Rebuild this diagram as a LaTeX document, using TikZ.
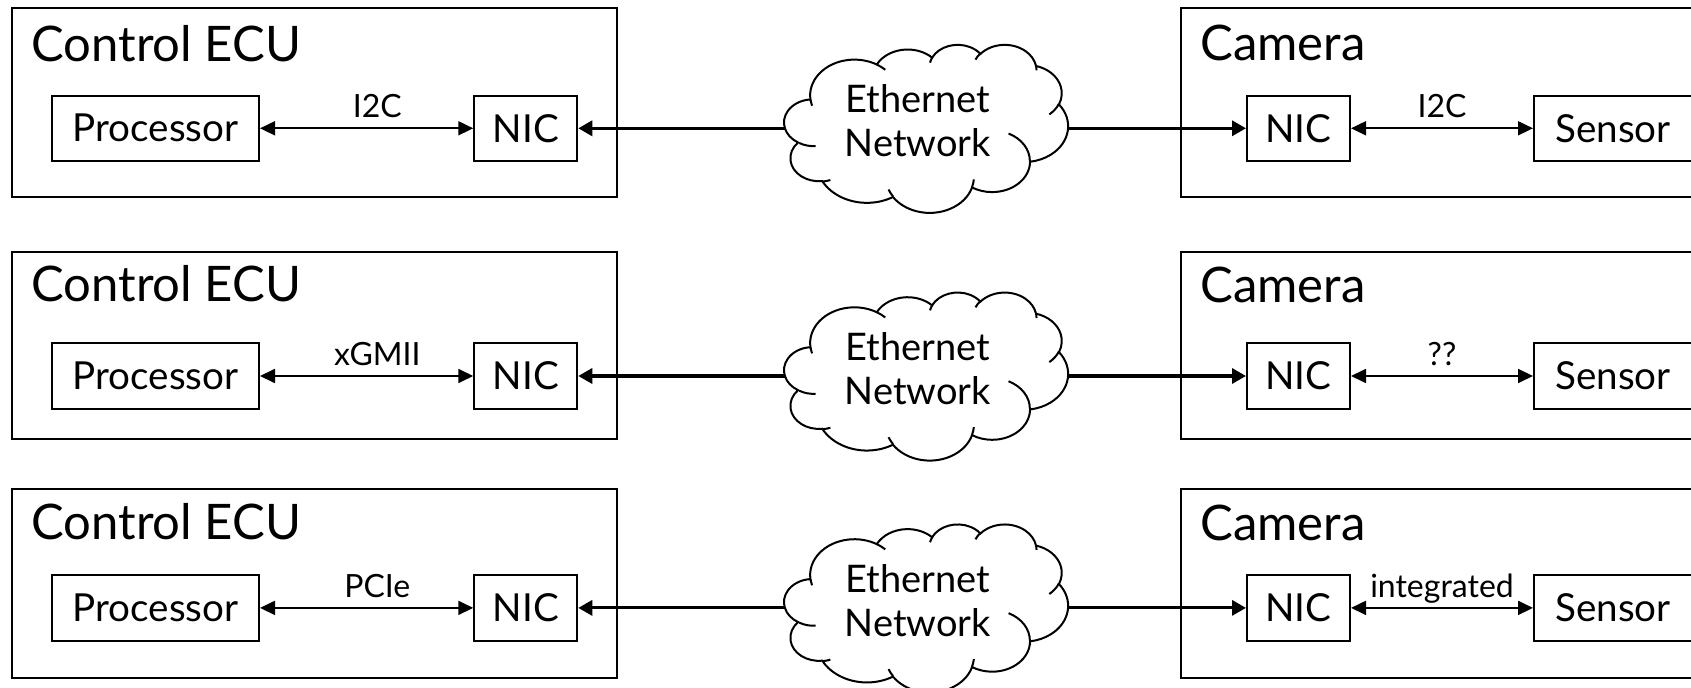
\documentclass[tikz,border=0pt]{standalone}
\usepackage{fontspec}
\setmainfont{Lato}
\usetikzlibrary{arrows.meta}
\tikzset{
  unitbox/.style={draw, line width=1.1pt},
  boxtitle/.style={anchor=base west, inner sep=0pt, font=\fontsize{24.5}{28}\selectfont},
  blk/.style={draw, line width=1pt, minimum height=32.75pt, inner sep=0pt,
    font=\fontsize{19.3}{23}\selectfont},
  proc/.style={blk, minimum width=103.5pt},
  nic/.style={blk, minimum width=51.5pt},
  sens/.style={blk, minimum width=79pt},
  link/.style={{Triangle[length=7.5pt,width=7pt]}-{Triangle[length=7.5pt,width=7pt]},
    line width=0.9pt},
  trunk/.style={-{Triangle[length=7pt,width=7.5pt]}, line width=1.6pt},
  lbl/.style={anchor=base, inner sep=0pt, yshift=5.2pt, font=\fontsize{16}{19}\selectfont},
  nettxt/.style={anchor=base, align=center, inner sep=0pt, font=\fontsize{19}{22}\selectfont},
  cloudline/.style={line width=1pt},
  netcloud/.pic={
    \begin{scope}[x=1.415pt, y=-0.84pt]
    \draw[cloudline, fill=white] (-40.97,-16.74)
      arc[start angle=172.25, end angle=300.36, x radius=15.632, y radius=21.273]
      arc[start angle=-152.02, end angle=-45.43, x radius=12.345, y radius=16.822]
      arc[start angle=-153.50, end angle=-37.33, x radius=10.104, y radius=13.762]
      arc[start angle=-139.71, end angle=-10.21, x radius=11.243, y radius=15.266]
      arc[start angle=-74.77, end angle=23.21, x radius=12.345, y radius=16.836]
      arc[start angle=-37.52, end angle=81.86, x radius=15.683, y radius=21.343]
      arc[start angle=0.46, end angle=121.98, x radius=13.391, y radius=18.211]
      arc[start angle=16.84, end angle=146.23, x radius=15.630, y radius=21.331]
      arc[start angle=58.99, end angle=152.04, x radius=17.870, y radius=24.405]
      arc[start angle=83.31, end angle=223.10, x radius=10.093, y radius=13.699]
      arc[start angle=120.36, end angle=264.11, x radius=10.058, y radius=13.762]
      -- cycle;
    \draw[cloudline]
      (-39.14,10.59) arc[start angle=85.55, end angle=120.36, x radius=10.058, y radius=13.762]
      (-33.96,30.78) arc[start angle=68.23, end angle=83.31, x radius=10.093, y radius=13.699]
      (-11.86,40.49) arc[start angle=146.23, end angle=158.48, x radius=15.630, y radius=21.331]
      (16.73,30.44) arc[start angle=4.74, end angle=16.84, x radius=15.630, y radius=21.331]
      (29.00,3.13) arc[start angle=-64.03, end angle=0.46, x radius=13.391, y radius=18.211]
      (46.75,-14.46) arc[start angle=23.21, end angle=49.64, x radius=12.345, y radius=16.836]
      (38.71,-37.44) arc[start angle=-10.21, end angle=0.82, x radius=11.243, y radius=15.266]
      (17.31,-40.85) arc[start angle=-156.29, end angle=-139.71, x radius=11.243, y radius=15.266]
      (1.25,-39.07) arc[start angle=-167.72, end angle=-153.50, x radius=10.104, y radius=13.762]
      (-17.59,-37.98) arc[start angle=-59.64, end angle=-45.71, x radius=15.632, y radius=21.273]
      (-40.45,-13.45) arc[start angle=163.20, end angle=172.25, x radius=15.632, y radius=21.273];
    \coordinate (-w) at (-50,0);
    \coordinate (-e) at (50,0);
    \end{scope}
    \node[nettxt] (-txt) at (-8.7,28.7) {Ethernet\\Network};
  }
}
\begin{document}
\begin{tikzpicture}[x=0.5pt, y=-0.5pt]
\path[use as bounding box] (0,0) rectangle (1691,688);
\clip (0,0) rectangle (1691,688);

\draw[unitbox] (12,8.3) rectangle (617,197.3);
\draw[unitbox] (1181,8.3) rectangle (1730,197.3);
\node[boxtitle] (ecuT1) at (31,61.7) {Control ECU};
\node[boxtitle] (camT1) at (1200,61) {Camera};
\node[proc] (proc1) at (155.5,128.3) {Processor};
\node[nic] (nicL1) at (525.75,128.3) {NIC};
\node[nic] (nicR1) at (1298.5,128.3) {NIC};
\node[sens] (sens1) at (1613,128.3) {Sensor};
\pic (net1) at (926.5,128.3) {netcloud};
\draw[link] (proc1) -- node[lbl, pos=.55] (busL1) {I2C} (nicL1);
\draw[link] (nicR1) -- node[lbl] (busR1) {I2C} (sens1);
\draw[trunk] (net1-w) -- (nicL1);
\draw[trunk] (net1-e) -- (nicR1);

\draw[unitbox] (12,251.7) rectangle (617,439);
\draw[unitbox] (1181,251.7) rectangle (1730,439);
\node[boxtitle] (ecuT2) at (31,301.7) {Control ECU};
\node[boxtitle] (camT2) at (1200,302.7) {Camera};
\node[proc] (proc2) at (155.5,376) {Processor};
\node[nic] (nicL2) at (525.75,376) {NIC};
\node[nic] (nicR2) at (1298.5,376) {NIC};
\node[sens] (sens2) at (1613,376) {Sensor};
\pic (net2) at (926.5,376) {netcloud};
\draw[link] (proc2) -- node[lbl, pos=.55] (busL2) {xGMII} (nicL2);
\draw[link] (nicR2) -- node[lbl] (busR2) {??} (sens2);
\draw[trunk] (net2-w) -- (nicL2);
\draw[trunk] (net2-e) -- (nicR2);

\draw[unitbox] (12,489.3) rectangle (617,678.3);
\draw[unitbox] (1181,489.3) rectangle (1730,678.3);
\node[boxtitle] (ecuT3) at (31,540) {Control ECU};
\node[boxtitle] (camT3) at (1200,541) {Camera};
\node[proc] (proc3) at (155.5,607.9) {Processor};
\node[nic] (nicL3) at (525.75,607.9) {NIC};
\node[nic] (nicR3) at (1298.5,607.9) {NIC};
\node[sens] (sens3) at (1613,607.9) {Sensor};
\pic (net3) at (926.5,607.9) {netcloud};
\draw[link] (proc3) -- node[lbl, pos=.55] (busL3) {PCIe} (nicL3);
\draw[link] (nicR3) -- node[lbl] (busR3) {integrated} (sens3);
\draw[trunk] (net3-w) -- (nicL3);
\draw[trunk] (net3-e) -- (nicR3);
\end{tikzpicture}
\end{document}
